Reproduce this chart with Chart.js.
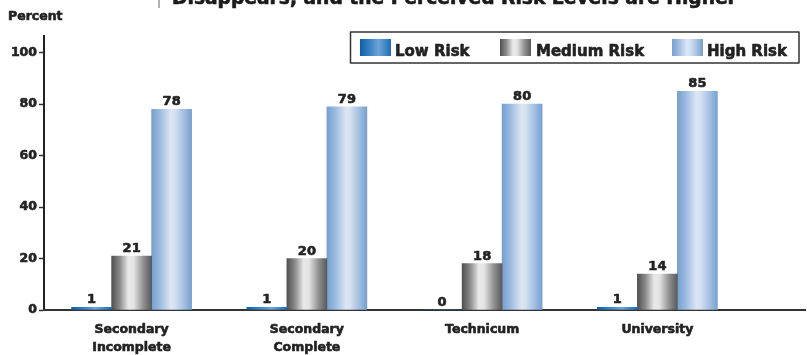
<!DOCTYPE html>
<html><head><meta charset="utf-8">
<script src="https://cdn.jsdelivr.net/npm/chart.js@4/dist/chart.umd.min.js"></script>
<style>html,body{margin:0;padding:0;background:#fff}#wrap{width:807px;height:355px}</style>
</head><body><div id="wrap"><canvas id="c" width="807" height="355"></canvas></div>
<script>
const titleText = 'Disappears, and the Perceived Risk Levels are Higher';
const yAxisLabel = 'Percent';
const categories = [['Secondary','Incomplete'],['Secondary','Complete'],['Technicum'],['University']];
const seriesNames = ['Low Risk','Medium Risk','High Risk'];
const lowRisk = [1,1,0,1];
const mediumRisk = [21,20,18,14];
const highRisk = [78,79,80,85];
const yTicks = [0,20,40,60,80,100];

const FONT = '"DejaVu Sans", Verdana, sans-serif';
const TXT = '#222';
const STROKE = 0.6;
const BAR_W = 40;
const stopsLow = [[0,'#0d5fa8'],[0.35,'#3f86c6'],[0.6,'#6ea5d6'],[1,'#1c6db6']];
const stopsMed = [[0,'#505050'],[0.2,'#8a8a8a'],[0.42,'#e9e9e9'],[0.55,'#e4e4e4'],[0.8,'#8e8e8e'],[1,'#5a5a5a']];
const stopsHigh = [[0,'#74a0d0'],[0.2,'#9ab9df'],[0.48,'#dce6f3'],[0.58,'#d5e1f0'],[0.8,'#a4c0e2'],[1,'#76a1d2']];
const allStops = [stopsLow, stopsMed, stopsHigh];

function grad(c, x0, x1, stops){
  const g = c.createLinearGradient(x0,0,x1,0);
  stops.forEach(s=>g.addColorStop(s[0],s[1]));
  return g;
}
function makeBg(stops, fallback){
  return ctx => {
    const chart = ctx.chart;
    if (ctx.type !== 'data' || !chart.chartArea || !chart.scales.x) return fallback;
    const n = chart.data.datasets.length;
    const cx = chart.scales.x.getPixelForValue(ctx.dataIndex) + (ctx.datasetIndex - (n-1)/2)*BAR_W;
    return grad(chart.ctx, cx-BAR_W/2, cx+BAR_W/2, stops);
  };
}
function boldText(c, t, x, y){
  c.lineWidth = STROKE; c.strokeStyle = c.fillStyle; c.lineJoin='round';
  c.strokeText(t, x, y); c.fillText(t, x, y);
}

const deco = {
  id:'deco',
  beforeDraw(chart){
    const c = chart.ctx; c.save(); c.fillStyle='#fff'; c.fillRect(0,0,chart.width,chart.height); c.restore();
  },
  beforeDatasetsDraw(chart){
    const c = chart.ctx, ys = chart.scales.y, a = chart.chartArea;
    const y0 = ys.getPixelForValue(0);
    c.save(); c.strokeStyle='#333'; c.lineWidth=2;
    c.beginPath(); c.moveTo(a.left-1,y0); c.lineTo(806,y0); c.stroke(); c.restore();
  },
  afterDatasetsDraw(chart){
    const c = chart.ctx;
    c.save();
    c.fillStyle = TXT; c.textAlign='center'; c.textBaseline='alphabetic';
    c.font = 'bold 13px ' + FONT;
    chart.data.datasets.forEach((ds,di)=>{
      chart.getDatasetMeta(di).data.forEach((el,i)=>{
        boldText(c, String(ds.data[i]), el.x, el.y - 4);
      });
    });
    c.restore();
  },
  afterDraw(chart){
    const c = chart.ctx;
    c.save();
    c.font = 'bold 100px ' + FONT;
    const w = c.measureText(titleText).width;
    const fs = 100*565/w;
    c.font = 'bold ' + fs.toFixed(2) + 'px ' + FONT;
    c.fillStyle = '#1a1a1a'; c.textAlign='left'; c.textBaseline='alphabetic';
    boldText(c, titleText, 172, 4);
    c.strokeStyle='#999'; c.lineWidth=1.5;
    c.beginPath(); c.moveTo(159,0); c.lineTo(159,8); c.stroke();
    c.font = 'bold 12.5px ' + FONT; c.fillStyle = TXT; c.textBaseline='middle';
    boldText(c, yAxisLabel, 8, 17);
    c.strokeStyle='#333'; c.lineWidth=1.5;
    c.strokeRect(350.5, 32, 448.5, 31);
    const sx = [360, 500, 672], tx = [395, 536, 707];
    c.font = 'bold 15px ' + FONT; c.textBaseline='alphabetic';
    seriesNames.forEach((name,i)=>{
      c.fillStyle = grad(c, sx[i], sx[i]+31, allStops[i]);
      c.fillRect(sx[i], 39, 31, 17);
      c.fillStyle = TXT;
      boldText(c, name, tx[i], 55.5);
    });
    c.restore();
  }
};

new Chart(document.getElementById('c'), {
  type:'bar',
  data:{
    labels: categories,
    datasets:[
      {label:seriesNames[0], data:lowRisk, backgroundColor:makeBg(stopsLow,'#1c6db6')},
      {label:seriesNames[1], data:mediumRisk, backgroundColor:makeBg(stopsMed,'#8a8a8a')},
      {label:seriesNames[2], data:highRisk, backgroundColor:makeBg(stopsHigh,'#9ab9df')}
    ]
  },
  options:{
    responsive:false, animation:false,
    devicePixelRatio:1,
    layout:{padding:{top:36,right:62,left:0,bottom:0}},
    datasets:{bar:{barThickness:BAR_W, borderWidth:0}},
    plugins:{legend:{display:false}, tooltip:{enabled:false}, title:{display:false}},
    scales:{
      x:{
        grid:{display:false, drawTicks:false},
        border:{display:false},
        ticks:{color:TXT, font:{family:FONT, weight:'bold', size:12.5, lineHeight:1.5}, padding:10, maxRotation:0, autoSkip:false,
               textStrokeColor:TXT, textStrokeWidth:STROKE},
        afterFit(s){ s.height = 45; }
      },
      y:{
        min:0, max:106.5,
        grid:{drawOnChartArea:false, drawTicks:true, tickLength:5, color:'#333', tickWidth:1.5},
        border:{display:true, color:'#222', width:2},
        ticks:{color:TXT, font:{family:FONT, weight:'bold', size:12.5}, padding:2,
               textStrokeColor:TXT, textStrokeWidth:STROKE},
        afterBuildTicks(s){ s.ticks = yTicks.map(v=>({value:v})); },
        afterFit(s){ s.width = 44; }
      }
    }
  },
  plugins:[deco]
});
</script>
</body></html>
